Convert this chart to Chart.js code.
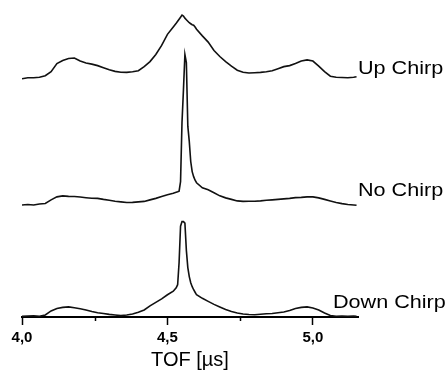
<!DOCTYPE html>
<html>
<head>
<meta charset="utf-8">
<script src="https://cdn.jsdelivr.net/npm/chart.js@4.4.0/dist/chart.umd.min.js"></script>
<style>
  html, body { margin: 0; padding: 0; background: #fff; }
  #wrap { width: 446px; height: 374px; }
</style>
</head>
<body>
<div id="wrap"><canvas id="tof"></canvas></div>
<script>
// time of flight grid (µs), finer around the peak
const tof = [
  4.00, 4.02, 4.04, 4.06, 4.08, 4.10, 4.12, 4.14, 4.16, 4.18, 4.20, 4.22, 4.24, 4.26,
  4.28, 4.30, 4.32, 4.34, 4.36, 4.38, 4.40, 4.42, 4.44, 4.46, 4.48, 4.50, 4.52,
  4.53, 4.535, 4.54, 4.545, 4.55, 4.555, 4.56, 4.565, 4.57, 4.575, 4.58, 4.585, 4.59, 4.595, 4.60,
  4.62, 4.64, 4.66, 4.68, 4.70, 4.72, 4.74, 4.76, 4.78, 4.80, 4.82, 4.84, 4.86, 4.88,
  4.90, 4.92, 4.94, 4.96, 4.98, 5.00, 5.02, 5.04, 5.06, 5.08, 5.10, 5.12, 5.14, 5.15
];

// signals, each relative to its own baseline
const upChirp = [
  0, 1, 1, 1.5, 3, 7, 15, 18, 20, 20.5, 17.5, 15.5, 14.5, 13,
  11, 9, 7.3, 6.5, 6.3, 7, 8, 12, 17, 24, 33, 44, 51.3,
  55, 57, 59, 61, 63, 62, 60, 58.5, 57, 55.5, 54.5, 53.5, 53, 51.3, 49,
  42.5, 36.3, 28, 22, 17, 12.5, 8.5, 6.5, 5.7, 6, 6.3, 7, 8, 10,
  12, 13, 15, 17.5, 18.7, 17.5, 12.5, 7, 2.5, 1.5, 1.3, 1, 1.5, 2
];
const noChirp = [
  0, 0.5, 0, 1, 1.5, 5, 8, 9, 8.5, 8.3, 7.8, 7.2, 6.7, 6.5,
  5.5, 4.7, 3.7, 3, 2.4, 2.5, 3, 3.5, 5, 6.5, 8.3, 10, 11.5,
  12.5, 13, 13.7, 23, 82, 114, 149, 141, 78, 63, 43, 33, 28, 24.5, 22,
  17, 15, 12, 9, 7, 5.5, 4, 3.5, 3.7, 3.7, 4, 4.6, 5, 5.5,
  6, 6.5, 7.2, 7.5, 8, 8, 7, 5.5, 4, 2.5, 1.3, 0.5, 0, -0.3
];
const downChirp = [
  0.7, 1, 1.3, 0.7, 2, 6, 8.5, 9.5, 10, 9.2, 8.2, 7, 5.5, 4.2,
  3.4, 2.6, 2, 1.4, 2, 3, 4.7, 7, 11, 14.5, 18, 22, 25.5,
  29, 32, 54, 90, 94.5, 94.5, 93, 66, 49, 40, 34, 30, 27, 24.5, 22,
  18.5, 15.5, 12.5, 10, 7.5, 5.5, 4, 3, 2.5, 2.3, 2.7, 3.2, 3.5, 4.2,
  5, 6.5, 8.5, 9.5, 10, 9, 7, 4, 1.5, 0.7, 1, 0.7, 1, 0.7
];

const traceNames = ['Up Chirp', 'No Chirp', 'Down Chirp'];
const majorTicks = [4.0, 4.5, 5.0];
const minorTicks = [4.25, 4.75];

// vertical stacking of the traces
const traces = [
  { values: upChirp, shift: 236, label: { x: 5.155, y: 246 } },
  { values: noChirp, shift: 111, label: { x: 5.155, y: 125 } },
  { values: downChirp, shift: 0, label: { x: 5.069, y: 14 } }
];

const FONT = '"Liberation Sans", Arial, Helvetica, sans-serif';

const traceLabels = {
  id: 'traceLabels',
  afterDatasetsDraw(chart) {
    const { ctx, scales: { x, y } } = chart;
    ctx.save();
    ctx.fillStyle = '#000';
    ctx.font = '18px ' + FONT;
    ctx.textBaseline = 'middle';
    traces.forEach((t, i) => {
      ctx.save();
      ctx.translate(x.getPixelForValue(t.label.x), y.getPixelForValue(t.label.y));
      ctx.scale(1.2, 1);
      ctx.fillText(traceNames[i], 0, 0);
      ctx.restore();
    });
    // minor ticks, shorter than the major ones
    ctx.strokeStyle = '#000';
    ctx.lineWidth = 1.5;
    minorTicks.forEach(v => {
      const px = Math.round(x.getPixelForValue(v)) + 0.5;
      ctx.beginPath();
      ctx.moveTo(px, y.bottom);
      ctx.lineTo(px, y.bottom + 4);
      ctx.stroke();
    });
    ctx.restore();
  }
};

new Chart(document.getElementById('tof'), {
  type: 'line',
  data: {
    datasets: traces.map((t, i) => ({
      label: traceNames[i],
      data: tof.map((v, k) => ({ x: v, y: t.values[k] + t.shift })),
      borderColor: '#111',
      borderWidth: 1.6,
      pointRadius: 0,
      tension: 0,
      fill: false
    }))
  },
  options: {
    responsive: true,
    maintainAspectRatio: false,
    animation: false,
    layout: { padding: { left: 22, right: 88, top: 0, bottom: 2 } },
    plugins: {
      legend: { display: false },
      tooltip: { enabled: false }
    },
    scales: {
      x: {
        type: 'linear',
        min: 4.0,
        max: 5.155,
        afterBuildTicks: (scale) => {
          scale.ticks = majorTicks.map(v => ({ value: v }));
        },
        border: { display: true, color: '#000', width: 2 },
        grid: {
          drawOnChartArea: false,
          drawTicks: true,
          tickLength: 8,
          tickWidth: 1.5,
          tickColor: '#000'
        },
        ticks: {
          color: '#000',
          padding: 4,
          maxRotation: 0,
          font: { family: FONT, size: 15, weight: 'bold' },
          callback: (v) => v.toFixed(1).replace('.', ',')
        },
        title: {
          display: true,
          text: 'TOF [µs]',
          color: '#000',
          padding: { top: -3, bottom: 0 },
          font: { family: FONT, size: 20 }
        }
      },
      y: {
        display: false,
        min: 0,
        max: 314
      }
    }
  },
  plugins: [traceLabels]
});
</script>
</body>
</html>
